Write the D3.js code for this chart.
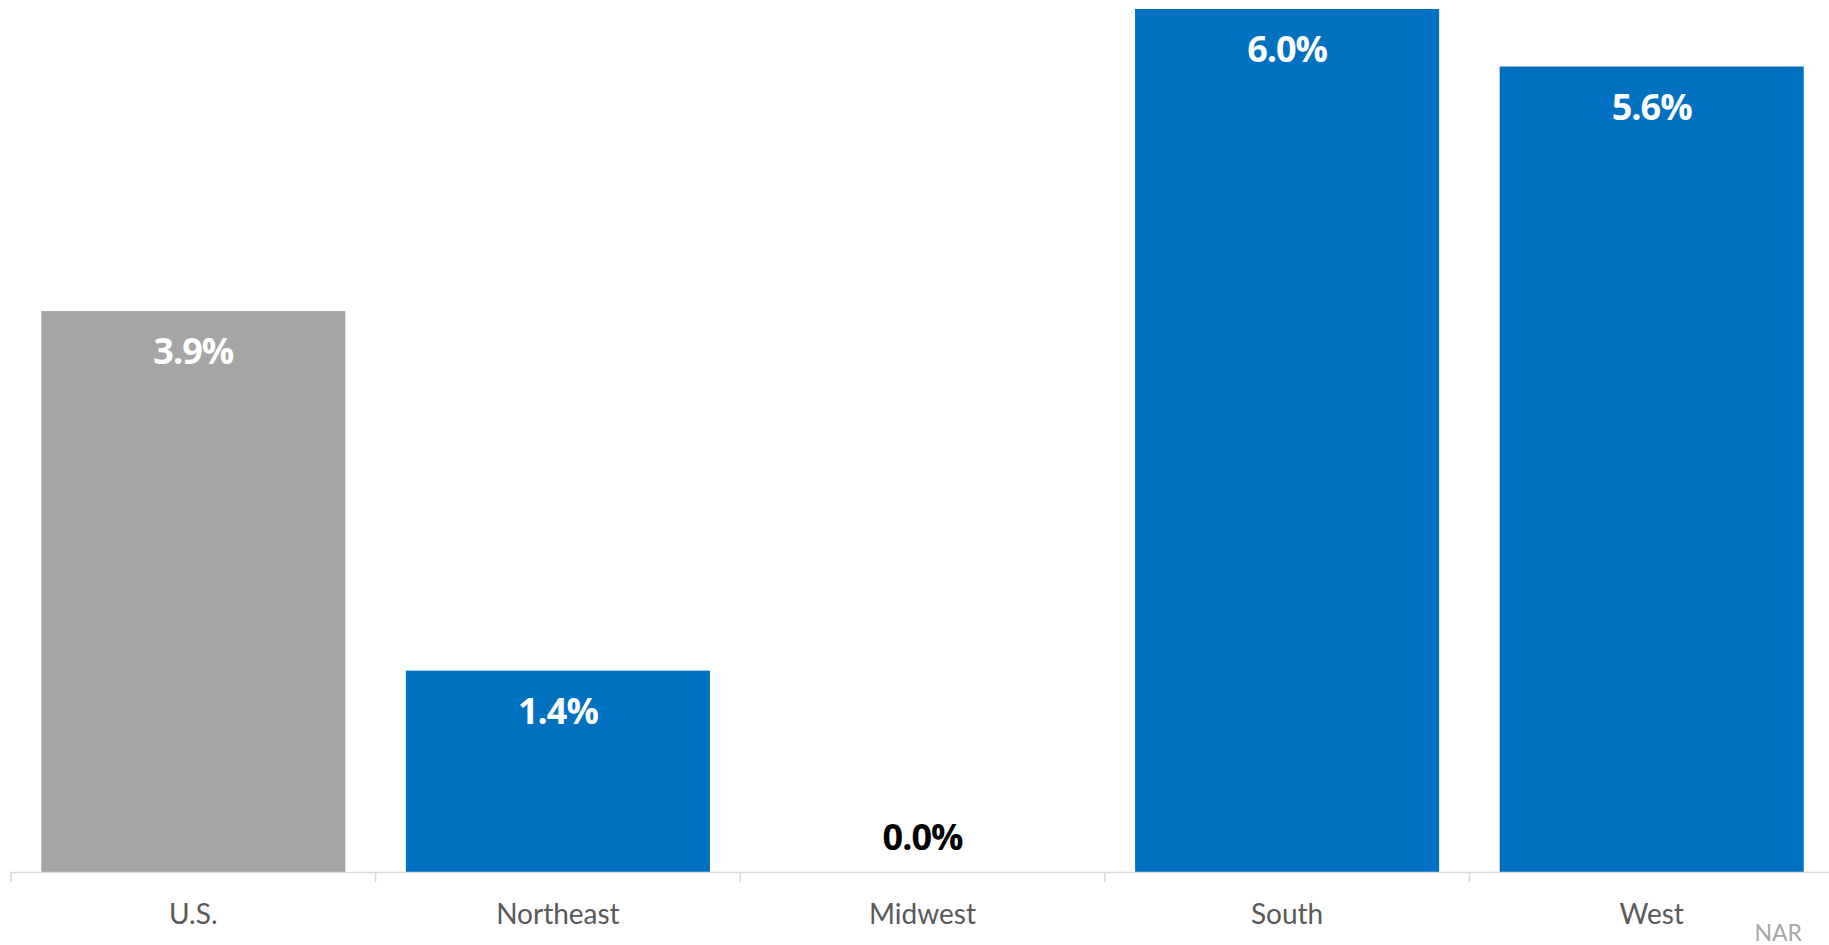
<!DOCTYPE html>
<html>
<head>
<meta charset="utf-8">
<script src="https://cdn.jsdelivr.net/npm/d3@7"></script>
<style>
  body { margin: 0; background: #fff; }
  svg { display: block; font-family: Lato, "Open Sans", sans-serif; }
</style>
</head>
<body>
<script>
// data
const regions = ["U.S.", "Northeast", "Midwest", "South", "West"];
const values = [3.9, 1.4, 0.0, 6.0, 5.6];
const barColors = ["#a5a5a5", "#0070c0", "#0070c0", "#0070c0", "#0070c0"];
const source = "NAR";

const width = 1829, height = 945;

const svg = d3.select("body").append("svg")
    .attr("width", width)
    .attr("height", height);

// scales
const xBand = d3.scaleBand()
    .domain(regions)
    .range([11, 1834])
    .paddingInner(0.166)
    .paddingOuter(0.083);

const xAxisBand = d3.scaleBand()
    .domain(regions)
    .range([11, 1834])
    .padding(0);

const yScale = d3.scaleLinear()
    .domain([0, 6])
    .range([872, 9]);

// bars
svg.selectAll("rect.bar")
    .data(regions)
    .enter().append("rect")
    .attr("class", "bar")
    .attr("x", d => xBand(d))
    .attr("width", xBand.bandwidth())
    .attr("y", (d, i) => yScale(values[i]))
    .attr("height", (d, i) => yScale(0) - yScale(values[i]))
    .attr("fill", (d, i) => barColors[i]);

// axis line + tick marks between categories
svg.append("line")
    .attr("x1", xAxisBand.range()[0])
    .attr("x2", xAxisBand.range()[1])
    .attr("y1", yScale(0) + 0.5)
    .attr("y2", yScale(0) + 0.5)
    .attr("stroke", "#d9d9d9")
    .attr("stroke-width", 1.5);

const tickPos = regions.map(d => xAxisBand(d)).concat([xAxisBand.range()[1]]);
svg.selectAll("line.tick")
    .data(tickPos)
    .enter().append("line")
    .attr("class", "tick")
    .attr("x1", d => d)
    .attr("x2", d => d)
    .attr("y1", yScale(0))
    .attr("y2", yScale(0) + 10)
    .attr("stroke", "#d9d9d9")
    .attr("stroke-width", 1.5);

// category labels
svg.selectAll("text.cat")
    .data(regions)
    .enter().append("text")
    .attr("class", "cat")
    .attr("x", d => xAxisBand(d) + xAxisBand.bandwidth() / 2)
    .attr("y", 924)
    .attr("text-anchor", "middle")
    .attr("fill", "#595959")
    .style("font-size", "28px")
    .text(d => d);

// value labels (inside end, zero sits above the axis)
svg.selectAll("text.val")
    .data(regions)
    .enter().append("text")
    .attr("class", "val")
    .attr("x", d => xBand(d) + xBand.bandwidth() / 2)
    .attr("y", (d, i) => values[i] > 0 ? yScale(values[i]) + 53 : yScale(0) - 22)
    .attr("text-anchor", "middle")
    .attr("fill", (d, i) => values[i] > 0 ? "#ffffff" : "#000000")
    .style("font-family", "'Open Sans', sans-serif")
    .style("font-size", "36px")
    .style("font-weight", "bold")
    .style("letter-spacing", "-1px")
    .text((d, i) => values[i].toFixed(1) + "%");

// source note
svg.append("text")
    .attr("x", 1802)
    .attr("y", 941)
    .attr("text-anchor", "end")
    .attr("fill", "#a6a6a6")
    .style("font-size", "23px")
    .text(source);
</script>
</body>
</html>
